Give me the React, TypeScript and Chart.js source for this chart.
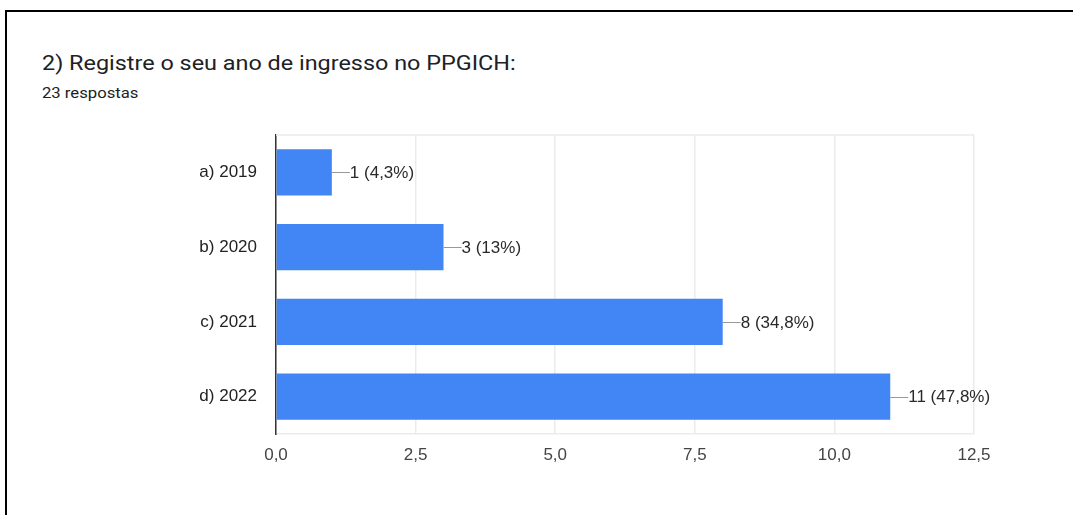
import React, { useEffect, useRef } from "react";
import { Chart, registerables } from "chart.js";

Chart.register(...registerables);

const TITLE = "2) Registre o seu ano de ingresso no PPGICH:";
const SUBTITLE = "23 respostas";
const categories = ["a) 2019", "b) 2020", "c) 2021", "d) 2022"];
const counts = [1, 3, 8, 11];
const percentLabels = ["4,3%", "13%", "34,8%", "47,8%"];
const xTickLabels = ["0,0", "2,5", "5,0", "7,5", "10,0", "12,5"];
const X_MAX = 12.5;
const X_STEP = 2.5;

const FONT = "'Liberation Sans', Arial, sans-serif";

const labelPlugin = {
  id: "barLabels",
  afterDatasetsDraw(chart: any) {
    const ctx = chart.ctx;
    const meta = chart.getDatasetMeta(0);
    ctx.save();
    meta.data.forEach((bar: any, i: number) => {
      const x = bar.x;
      const y = bar.y;
      ctx.strokeStyle = "#999999";
      ctx.lineWidth = 1;
      ctx.beginPath();
      ctx.moveTo(x, Math.round(y) + 0.5);
      ctx.lineTo(x + 18, Math.round(y) + 0.5);
      ctx.stroke();
      ctx.fillStyle = "#2a2a2a";
      ctx.font = `17px ${FONT}`;
      ctx.textAlign = "left";
      ctx.textBaseline = "middle";
      ctx.fillText(`${counts[i]} (${percentLabels[i]})`, x + 18, y + 1);
    });
    ctx.restore();
  },
};

const framePlugin = {
  id: "frameTop",
  beforeDatasetsDraw(chart: any) {
    const { ctx, chartArea } = chart;
    ctx.save();
    ctx.strokeStyle = "#ebebeb";
    ctx.lineWidth = 1.5;
    ctx.beginPath();
    ctx.moveTo(chartArea.left, chartArea.top);
    ctx.lineTo(chartArea.right, chartArea.top);
    ctx.stroke();
    ctx.restore();
  },
};

export default function App() {
  const canvasRef = useRef<HTMLCanvasElement | null>(null);

  useEffect(() => {
    if (!canvasRef.current) return;
    const chart = new Chart(canvasRef.current, {
      type: "bar",
      data: {
        labels: categories,
        datasets: [
          {
            data: counts,
            backgroundColor: "#4285f4",
            borderWidth: 0,
            barPercentage: 0.62,
            categoryPercentage: 1,
          },
        ],
      },
      options: {
        indexAxis: "y",
        responsive: false,
        animation: false,
        devicePixelRatio: 1,
        layout: { padding: { left: 0, right: 99, top: 135, bottom: 0 } },
        plugins: {
          legend: { display: false },
          tooltip: { enabled: false },
          title: { display: false },
        },
        scales: {
          x: {
            min: 0,
            max: X_MAX,
            ticks: {
              stepSize: X_STEP,
              padding: 11,
              color: "#444444",
              font: { family: FONT, size: 17 },
              callback: (_v: any, idx: number) => xTickLabels[idx],
            },
            grid: { color: "#ebebeb", lineWidth: 1.5, drawTicks: false },
            border: { color: "#ebebeb", width: 1.5 },
            afterFit: (s: any) => {
              s.height = 81;
            },
          },
          y: {
            ticks: {
              padding: 19,
              color: "#222222",
              font: { family: FONT, size: 17 },
            },
            grid: { display: false, drawTicks: false },
            border: { color: "#333333", width: 1.5 },
            afterFit: (s: any) => {
              s.width = 276;
            },
          },
        },
      },
      plugins: [labelPlugin, framePlugin],
    });
    return () => chart.destroy();
  }, []);

  return (
    <div
      style={{
        position: "absolute",
        left: 0,
        top: 0,
        width: 1073,
        height: 515,
        background: "#fff",
        overflow: "hidden",
      }}
    >
      <div
        style={{
          position: "absolute",
          left: 5,
          top: 10,
          width: 1100,
          height: 600,
          borderTop: "2px solid #000",
          borderLeft: "2px solid #000",
        }}
      />
      <div
        style={{
          position: "absolute",
          left: 42,
          top: 53,
          fontFamily: "Roboto, sans-serif",
          fontSize: 20,
          lineHeight: "20px",
          color: "#202124",
          whiteSpace: "nowrap",
          transform: "scaleX(1.17)",
          transformOrigin: "0 0",
        }}
      >
        {TITLE}
      </div>
      <div
        style={{
          position: "absolute",
          left: 42,
          top: 85.5,
          fontFamily: "Roboto, sans-serif",
          fontSize: 14,
          lineHeight: "14px",
          color: "#202124",
          whiteSpace: "nowrap",
          transform: "scaleX(1.19)",
          transformOrigin: "0 0",
        }}
      >
        {SUBTITLE}
      </div>
      <canvas
        ref={canvasRef}
        width={1073}
        height={515}
        style={{ position: "absolute", left: 0, top: 0, width: 1073, height: 515 }}
      />
    </div>
  );
}
